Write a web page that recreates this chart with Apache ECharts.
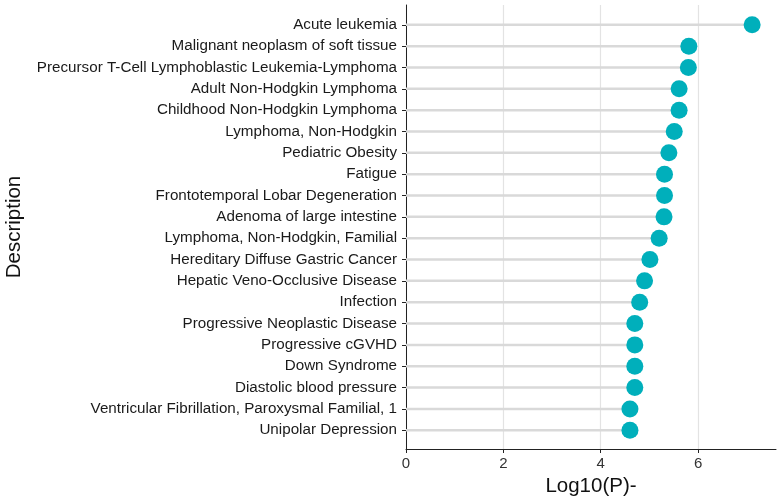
<!DOCTYPE html>
<html>
<head>
<meta charset="utf-8">
<script src="https://cdn.jsdelivr.net/npm/echarts@6/dist/echarts.min.js"></script>
<style>
  html, body { margin: 0; padding: 0; background: #fff; }
  #chart { width: 782px; height: 502px; }
</style>
</head>
<body>
<div id="chart"></div>
<script>
// categories, top to bottom
const categories = [
  "Acute leukemia",
  "Malignant neoplasm of soft tissue",
  "Precursor T-Cell Lymphoblastic Leukemia-Lymphoma",
  "Adult Non-Hodgkin Lymphoma",
  "Childhood Non-Hodgkin Lymphoma",
  "Lymphoma, Non-Hodgkin",
  "Pediatric Obesity",
  "Fatigue",
  "Frontotemporal Lobar Degeneration",
  "Adenoma of large intestine",
  "Lymphoma, Non-Hodgkin, Familial",
  "Hereditary Diffuse Gastric Cancer",
  "Hepatic Veno-Occlusive Disease",
  "Infection",
  "Progressive Neoplastic Disease",
  "Progressive cGVHD",
  "Down Syndrome",
  "Diastolic blood pressure",
  "Ventricular Fibrillation, Paroxysmal Familial, 1",
  "Unipolar Depression"
];
// -log10(P) values
const logP = [7.11, 5.81, 5.80, 5.61, 5.61, 5.51, 5.40, 5.31, 5.31, 5.30,
              5.20, 5.01, 4.90, 4.80, 4.70, 4.70, 4.70, 4.70, 4.60, 4.60];
const xTicks = [0, 2, 4, 6];

const rowIdx = categories.map((c, i) => i);
const points = logP.map((v, i) => [v, i]);

const chart = echarts.init(document.getElementById("chart"));

const option = {
  animation: false,
  grid: { left: 406, right: 6, top: 5, bottom: 53, outerBoundsMode: "none", containLabel: false },
  xAxis: {
    type: "value",
    min: 0,
    max: 7.6,
    interval: 2,
    name: "Log10(P)-",
    nameLocation: "middle",
    nameGap: 27,
    nameTextStyle: { fontFamily: "Liberation Sans", fontSize: 20.5, color: "#111" },
    axisLine: { show: true, onZero: false, lineStyle: { color: "#222", width: 1 } },
    axisTick: { show: true, length: 4, lineStyle: { color: "#222" }, customValues: xTicks },
    axisLabel: { fontFamily: "Liberation Sans", fontSize: 15, color: "#333", margin: 7, customValues: xTicks },
    splitLine: { show: true, lineStyle: { color: "#e3e3e3", width: 1.2 } }
  },
  yAxis: {
    type: "value",
    inverse: true,
    min: -0.93,
    max: 19.88,
    name: "Description",
    nameLocation: "middle",
    nameGap: 381,
    nameRotate: 90,
    nameTextStyle: { fontFamily: "Liberation Sans", fontSize: 20.5, color: "#111" },
    axisLine: { show: true, onZero: false, lineStyle: { color: "#222", width: 1 } },
    axisTick: { show: true, length: 4, lineStyle: { color: "#222" }, customValues: rowIdx },
    axisLabel: {
      fontFamily: "Liberation Sans",
      fontSize: 15.2,
      color: "#1a1a1a",
      margin: 9,
      customValues: rowIdx,
      formatter: v => categories[Math.round(v)] || ""
    },
    splitLine: { show: false }
  },
  series: [
    {
      // lollipop stems
      type: "custom",
      data: points,
      renderItem: (params, api) => {
        const s = api.coord([0, api.value(1)]);
        const e = api.coord([api.value(0), api.value(1)]);
        return {
          type: "line",
          shape: { x1: s[0], y1: s[1], x2: e[0], y2: e[1] },
          style: { stroke: "#d9d9d9", lineWidth: 2.5 }
        };
      },
      z: 1
    },
    {
      type: "scatter",
      data: points,
      symbol: "circle",
      symbolSize: 17,
      itemStyle: { color: "#00AFBB", opacity: 1 },
      z: 3
    }
  ]
};

chart.setOption(option);
window.addEventListener("resize", () => chart.resize(), false);
</script>
</body>
</html>
